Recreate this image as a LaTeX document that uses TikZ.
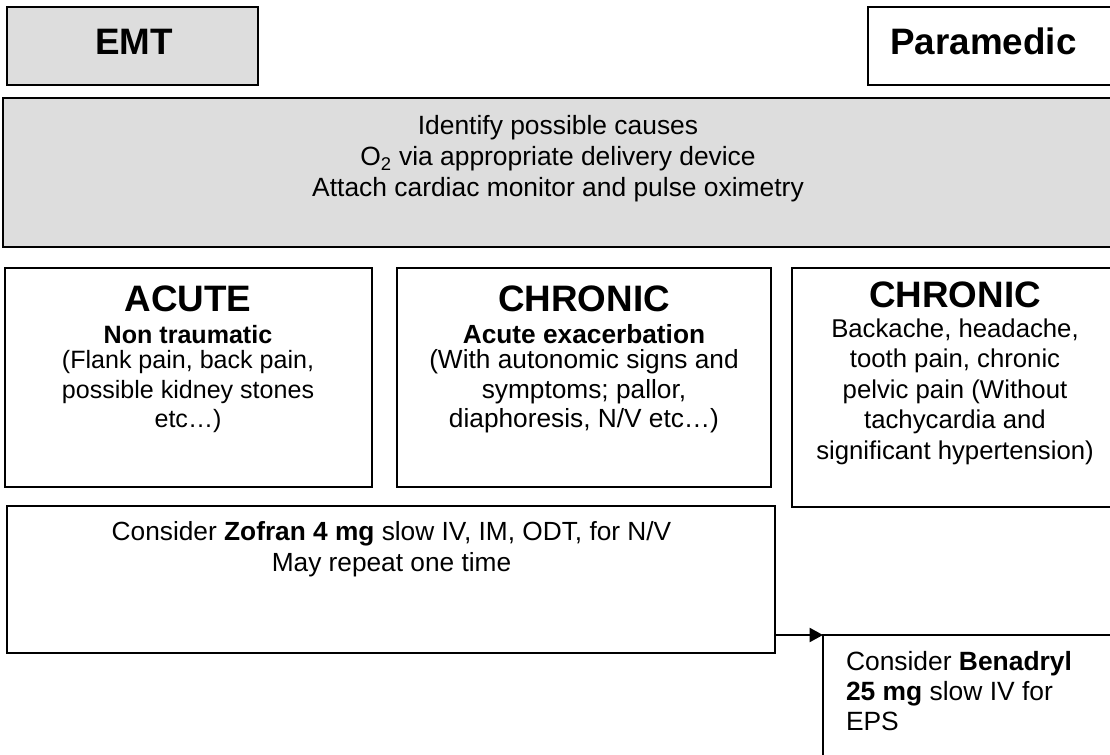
\documentclass[tikz,border=0pt]{standalone}
\usepackage{fontspec}
\setmainfont{Liberation Sans}
\usetikzlibrary{arrows.meta,fit}
\definecolor{boxgray}{RGB}{221,221,221}
\newcommand\ttlfont{\fontsize{27.6}{30}\selectfont\bfseries}
\begin{document}
\begin{tikzpicture}[x=0.75pt,y=-0.75pt,
  box/.style={draw, line width=1.5pt, inner sep=0pt, outer sep=0pt},
  gbox/.style={box, fill=boxgray},
  txt/.style={inner sep=0pt, outer sep=0pt, anchor=base},
  arr/.style={line width=1.5pt, -{Triangle[length=10pt,width=10.5pt]}}]
\useasboundingbox (0,0) rectangle (1110,755);
\clip (0,0) rectangle (1110,755);
% boxes
\node[gbox, fit={(7,7) (258,85)}] (emt) {};
\node[box, fill=white, fit={(868,7) (1125,85)}] (para) {};
\node[gbox, fit={(3,98) (1125,247)}] (top) {};
\node[box, fit={(5,268) (372,487)}] (acute) {};
\node[box, fit={(397,268) (771,487)}] (chronA) {};
\node[box, fit={(792,268) (1125,507)}] (chronB) {};
\node[box, fit={(7,506) (775,653)}] (zofran) {};
\node[box, fit={(823,635) (1130,775)}] (benadryl) {};
% texts
\node[txt, font=\ttlfont] (emttxt) at (134,55) {EMT};
\node[txt, font=\ttlfont] (paratxt) at (983.5,55) {Paramedic};
\node[txt, font=\fontsize{19.8}{23.25}\selectfont] (toptxt) at (558,135)
  {\begin{tabular}[t]{@{}c@{}}Identify possible causes\\
   O\textsubscript{2} via appropriate delivery device\\
   Attach cardiac monitor and pulse oximetry\end{tabular}};
\node[txt, font=\fontsize{18.8}{22.1}\selectfont] (acutetxt) at (188,312)
  {\begin{tabular}[t]{@{}c@{}}{\ttlfont ACUTE}\\[1.9pt]
   \bfseries Non traumatic\\[-3.4pt]
   (Flank pain, back pain,\\
   possible kidney stones\\
   etc\ldots)\end{tabular}};
\node[txt, font=\fontsize{19.7}{22.1}\selectfont] (chronAtxt) at (584,312)
  {\begin{tabular}[t]{@{}c@{}}{\ttlfont CHRONIC}\\[1.9pt]
   \bfseries Acute exacerbation\\[-3.4pt]
   (With autonomic signs and\\
   symptoms; pallor,\\
   diaphoresis, N/V etc\ldots)\end{tabular}};
\node[txt, font=\fontsize{19.3}{22.9}\selectfont] (chronBtxt) at (955,308)
  {\begin{tabular}[t]{@{}c@{}}{\ttlfont CHRONIC}\\[-1.1pt]
   Backache, headache,\\
   tooth pain, chronic\\
   pelvic pain (Without\\
   tachycardia and\\
   significant hypertension)\end{tabular}};
\node[txt, font=\fontsize{19.7}{23.25}\selectfont] (zofrantxt) at (391.5,540)
  {\begin{tabular}[t]{@{}c@{}}Consider \textbf{Zofran 4 mg} slow IV, IM, ODT, for N/V\\
   May repeat one time\end{tabular}};
\node[txt, anchor=base west, font=\fontsize{19.8}{22.5}\selectfont] (benatxt) at (846,670)
  {\begin{tabular}[t]{@{}l@{}}Consider \textbf{Benadryl}\\
   \textbf{25 mg} slow IV for\\
   EPS\end{tabular}};
% connector
\draw[arr] (zofran.east |- benadryl.north west) -- (benadryl.north west);
\end{tikzpicture}
\end{document}
